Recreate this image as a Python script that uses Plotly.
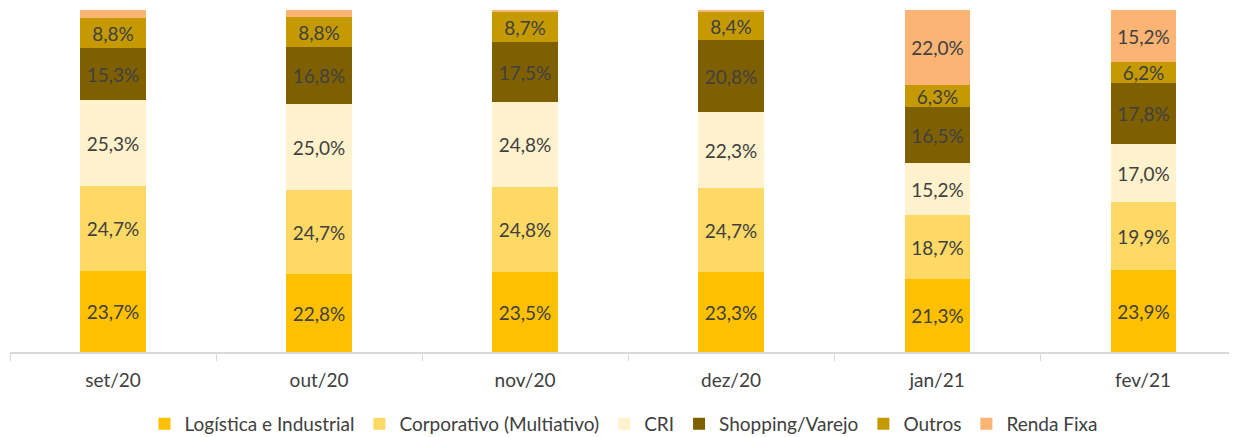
import plotly.graph_objects as go

meses = ["set/20", "out/20", "nov/20", "dez/20", "jan/21", "fev/21"]

logistica = [23.7, 22.8, 23.5, 23.3, 21.3, 23.9]
corporativo = [24.7, 24.7, 24.8, 24.7, 18.7, 19.9]
cri = [25.3, 25.0, 24.8, 22.3, 15.2, 17.0]
shopping = [15.3, 16.8, 17.5, 20.8, 16.5, 17.8]
outros = [8.8, 8.8, 8.7, 8.4, 6.3, 6.2]
renda_fixa = [2.2, 1.9, 0.7, 0.5, 22.0, 15.2]

series = [
    ("Logística e Industrial", logistica, "#FFC000"),
    ("Corporativo (Multiativo)", corporativo, "#FFD966"),
    ("CRI", cri, "#FFF2CC"),
    ("Shopping/Varejo", shopping, "#7F6000"),
    ("Outros", outros, "#C49A00"),
    ("Renda Fixa", renda_fixa, "#FBB474"),
]

def rotulo(v):
    # small slices carry no label in the original
    if v < 3:
        return ""
    return f"{v:.1f}%".replace(".", ",")

fig = go.Figure()
for nome, valores, cor in series:
    fig.add_trace(go.Bar(
        x=meses,
        y=valores,
        name=nome,
        marker=dict(color=cor, line=dict(width=0)),
        width=0.316,
        text=[rotulo(v) for v in valores],
        textposition="inside",
        insidetextanchor="middle",
        textangle=0,
        constraintext="none",
        textfont=dict(size=19, color="#404040"),
        hoverinfo="skip",
    ))

# page body adds an 8px offset, so the figure is 8px smaller on each axis
fig.update_layout(
    barmode="stack",
    width=1229,
    height=429,
    margin=dict(l=2, r=0, t=2, b=85, autoexpand=False),
    plot_bgcolor="white",
    paper_bgcolor="white",
    font=dict(family="Lato, 'Open Sans', sans-serif", size=19, color="#404040"),
    bargap=0,
    legend=dict(
        orientation="h",
        x=0.5,
        xanchor="center",
        y=-0.155,
        yanchor="top",
        font=dict(size=19, color="#404040"),
        traceorder="normal",
        itemwidth=30,
    ),
    showlegend=True,
)

fig.update_xaxes(
    type="category",
    range=[-0.5, 5.456],
    tickson="boundaries",
    ticks="outside",
    ticklen=7,
    tickcolor="#D9D9D9",
    showline=True,
    linecolor="#D9D9D9",
    linewidth=2,
    showgrid=False,
    ticklabelstandoff=10,
    tickfont=dict(size=19, color="#404040"),
)
fig.update_yaxes(
    range=[0, 100],
    visible=False,
    showgrid=False,
)

fig.write_html("out.html")
